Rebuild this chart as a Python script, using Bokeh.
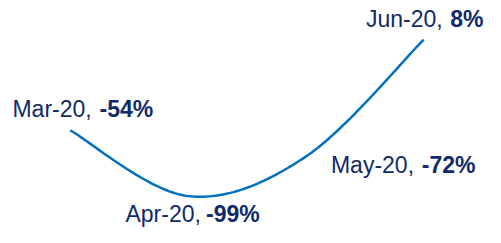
import numpy as np
from bokeh.plotting import figure
from bokeh.models import ColumnDataSource
from bokeh.core.properties import value
from bokeh.embed import file_html
from bokeh.resources import INLINE

months = ["Mar-20", "Apr-20", "May-20", "Jun-20"]
values = [-54, -99, -72, 8]
value_labels = ["-54%", "-99%", "-72%", "8%"]

# label placement in pixels relative to each point
reg_dx = [-57.8, -62.6, 25.1, -57.7]    # left edge of "Mon-20,"
bold_dx = [83.0, 71.7, 169.7, 59.8]     # right edge of bold value
label_dy = [-21.0, 18.0, 8.7, -21.0]    # baseline

xs = np.arange(len(values), dtype=float)
ys = np.array(values, dtype=float)

# Excel-style smoothed line (Catmull-Rom -> cubic Bezier) through the data points
P = np.column_stack([xs, ys])
Pext = np.vstack([P[0], P, P[-1]])
cx, cy = [], []
t = np.linspace(0, 1, 40)
for i in range(len(P) - 1):
    p0, p1, p2, p3 = Pext[i], Pext[i + 1], Pext[i + 2], Pext[i + 3]
    b1 = p1 + (p2 - p0) / 6.0
    b2 = p2 - (p3 - p1) / 6.0
    seg = ((1 - t) ** 3)[:, None] * p1 + (3 * (1 - t) ** 2 * t)[:, None] * b1 \
        + (3 * (1 - t) * t ** 2)[:, None] * b2 + (t ** 3)[:, None] * p2
    if i > 0:
        seg = seg[1:]
    cx.extend(seg[:, 0])
    cy.extend(seg[:, 1])

p = figure(width=485, height=227, output_backend="svg", toolbar_location=None,
           x_range=(-0.592, 3.525), y_range=(-120.5, 34.8), min_border=0)
p.axis.visible = False
p.grid.visible = False
p.outline_line_color = None
p.background_fill_color = "white"
p.border_fill_color = "white"

p.line(cx, cy, line_color="#0070C0", line_width=2.5)

src = ColumnDataSource(dict(x=xs, y=ys, m=[m + "," for m in months], v=value_labels,
                            rdx=reg_dx, bdx=bold_dx, dy=label_dy))

text_color = "#102A68"
p.text(x="x", y="y", text="m", source=src, x_offset="rdx", y_offset="dy",
       text_align="left", text_baseline="alphabetic", text_font=value("Liberation Sans"),
       text_font_size="23px", text_color=text_color)
p.text(x="x", y="y", text="v", source=src, x_offset="bdx", y_offset="dy",
       text_align="right", text_baseline="alphabetic", text_font=value("Liberation Sans"),
       text_font_style="bold", text_font_size="23px", text_color=text_color)

open("out.html", "w").write(file_html(p, INLINE))
